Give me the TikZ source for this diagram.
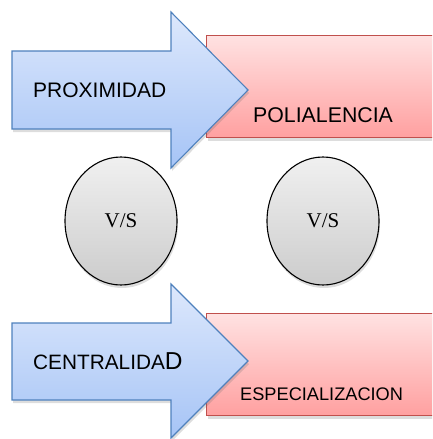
\documentclass[tikz,border=0pt]{standalone}
\usepackage{fontspec}
\setmainfont{Liberation Sans}
\newfontfamily\serifvs{Liberation Serif}
\usetikzlibrary{shapes.geometric,shadows}
\definecolor{arrtop}{RGB}{221,232,252}
\definecolor{arrbot}{RGB}{166,196,246}
\definecolor{arrline}{RGB}{79,129,189}
\definecolor{rectop}{RGB}{255,226,226}
\definecolor{recbot}{RGB}{255,160,160}
\definecolor{recline}{RGB}{192,80,77}
\definecolor{cirtop}{RGB}{240,240,240}
\definecolor{cirbot}{RGB}{204,204,204}
\tikzset{
  shade/.style={drop shadow={shadow xshift=1pt,shadow yshift=-3pt,opacity=0.22,fill=black!60}},
  arrowshape/.style={shade,top color=arrtop,bottom color=arrbot,draw=arrline,line width=1.1pt,line join=miter},
  redbox/.style={shade,rectangle,top color=rectop,bottom color=recbot,draw=recline,line width=1.1pt,
    minimum width=240pt,minimum height=102pt,anchor=north west,inner sep=0pt},
  vsnode/.style={shade,ellipse,top color=cirtop,bottom color=cirbot,draw=black,line width=1.1pt,
    minimum width=112pt,minimum height=128pt,inner sep=0pt,font=\serifvs\fontsize{21}{24}\selectfont},
  lbl/.style={anchor=base west,inner sep=0pt}
}
\begin{document}
\begin{tikzpicture}[x=1pt,y=-1pt]
\useasboundingbox (0,0) rectangle (432,439);
\clip (0,0) rectangle (432,439);
% red boxes
\node[redbox] (boxtop) at (206,35) {};
\node[redbox] (boxbot) at (206,313) {};
% arrows
\path[arrowshape] (12,51) -- (171,51) -- (171,12) -- (248,90) -- (171,168) -- (171,129) -- (12,129) -- cycle;
\path[arrowshape] (12,323) -- (171,323) -- (171,284) -- (248,361) -- (171,438) -- (171,400) -- (12,400) -- cycle;
% circles
\node[vsnode] (vsleft) at (121,221) {V/S};
\node[vsnode] (vsright) at (323,221) {V/S};
% labels
\node[lbl,font=\fontsize{21}{24}\selectfont] (prox) at (33,97) {PROXIMIDAD};
\node[lbl,font=\fontsize{21.3}{24}\selectfont] (poli) at (253,122.7) {POLIALENCIA};
\node[lbl,font=\fontsize{20.8}{24}\selectfont] (cent) at (33,369) {CENTRALIDA{\fontsize{24.5}{28}\selectfont D}};
\node[lbl,font=\fontsize{18.2}{20}\selectfont] (espe) at (240,400) {ESPECIALIZACION};
\end{tikzpicture}
\end{document}
